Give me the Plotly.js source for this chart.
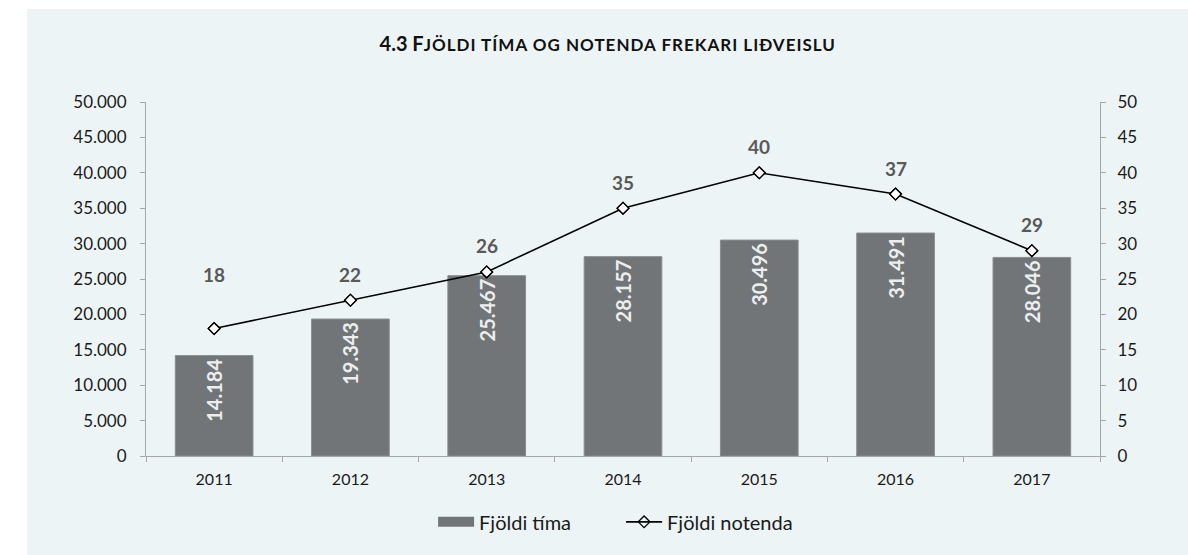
<!DOCTYPE html>
<html>
<head>
<meta charset="utf-8">
<script src="https://cdn.plot.ly/plotly-3.0.1.min.js"></script>
<style>
  html, body { margin:0; padding:0; background:#ffffff; }
  #panel { position:absolute; left:27px; top:9px; width:1161px; height:546px; background:#edf4f6; }
  #chart { position:absolute; left:0; top:0; width:1188px; height:555px; }
</style>
</head>
<body>
<div id="panel"></div>
<div id="chart"></div>
<script>
const years = ['2011','2012','2013','2014','2015','2016','2017'];
const hours = [14184, 19343, 25467, 28157, 30496, 31491, 28046];
const users = [18, 22, 26, 35, 40, 37, 29];
const leftTicks = [0,5000,10000,15000,20000,25000,30000,35000,40000,45000,50000];
const rightTicks = [0,5,10,15,20,25,30,35,40,45,50];
const seriesNames = ['Fjöldi tíma', 'Fjöldi notenda'];
const titleLead = '4.3 F';
const titleRest = 'JÖLDI TÍMA OG NOTENDA FREKARI LIÐVEISLU';

const FONT = 'Lato, "Open Sans", sans-serif';
const BAR = '#717578';

const barTrace = {
  type:'bar', name:seriesNames[0], x:years, y:hours, showlegend:false,
  marker:{color:BAR, line:{color:'#8a8d90', width:1}},
  texttemplate:'%{y:,}', textposition:'inside', insidetextanchor:'end',
  textangle:-90, textfont:{family:FONT, size:20, color:'#eceeee', weight:'bold'},
  hoverinfo:'skip'
};
// legend proxy for the bar series (wide rectangle swatch)
const barLegend = {
  type:'scatter', mode:'lines', name:seriesNames[0], x:[years[0]], y:[null],
  line:{color:BAR, width:11}, hoverinfo:'skip'
};
const lineTrace = {
  type:'scatter', mode:'lines+markers', name:seriesNames[1], x:years, y:users, yaxis:'y2',
  line:{color:'#000000', width:1.6},
  marker:{symbol:'diamond-open', size:9, color:'#000000', line:{width:1.3}},
  hoverinfo:'skip'
};
const fillTrace = {
  type:'scatter', mode:'markers', x:years, y:users, yaxis:'y2', showlegend:false,
  marker:{symbol:'diamond', size:8, color:'#ffffff'}, hoverinfo:'skip'
};
const fillOutline = Object.assign({}, lineTrace, {mode:'markers', showlegend:false});

// annotation x on category axes uses the serial index of the category
const annotations = users.map((v,i)=>({
  x:i, y:v, xref:'x', yref:'y2', text:String(v), showarrow:false,
  yshift: i===0 ? 54 : 26,
  font:{family:FONT, size:19, color:'#595959', weight:'bold'}
}));

const layout = {
  width:1188, height:555,
  paper_bgcolor:'rgba(0,0,0,0)', plot_bgcolor:'rgba(0,0,0,0)',
  separators:',.',
  margin:{l:146, r:88, t:102, b:99},
  font:{family:FONT, size:16, color:'#1a1a1a'},
  title:{text:titleLead + '<span style="font-size:17px;letter-spacing:1px">' + titleRest + '</span>',
         x:0.484, xanchor:'center', xref:'paper', yref:'container', y:1-44/555, yanchor:'middle',
         font:{family:FONT, size:20, color:'#111111', weight:'bold'}},
  bargap:0.43,
  xaxis:{type:'category', range:[-0.5, 6.5], showline:true, linecolor:'#a6a6a6', linewidth:1,
         ticks:'outside', ticklen:5, tickcolor:'#a6a6a6', tickson:'boundaries',
         ticklabelstandoff:9,
         showgrid:false, zeroline:false, tickfont:{size:16, color:'#1a1a1a'}},
  yaxis:{range:[0,50000], tickvals:leftTicks, tickformat:',', showline:true,
         linecolor:'#a6a6a6', ticks:'outside', ticklen:5, tickcolor:'#a6a6a6',
         ticklabelstandoff:10,
         showgrid:false, zeroline:false, tickfont:{size:17, color:'#1a1a1a'}},
  yaxis2:{range:[0,50], tickvals:rightTicks, overlaying:'y', side:'right', showline:true,
          linecolor:'#a6a6a6', ticks:'outside', ticklen:5, tickcolor:'#a6a6a6',
          ticklabelstandoff:8,
          showgrid:false, zeroline:false, tickfont:{size:17, color:'#1a1a1a'}},
  legend:{orientation:'h', x:0.498, xanchor:'center', y:-0.186, yanchor:'middle',
          font:{size:20, color:'#1a1a1a'}, bgcolor:'rgba(0,0,0,0)', itemwidth:36,
          entrywidth:137, entrywidthmode:'pixels'},
  annotations:annotations,
  showlegend:true
};

Plotly.newPlot('chart', [barTrace, barLegend, lineTrace, fillTrace, fillOutline], layout, {displayModeBar:false, staticPlot:true});
</script>
</body>
</html>
